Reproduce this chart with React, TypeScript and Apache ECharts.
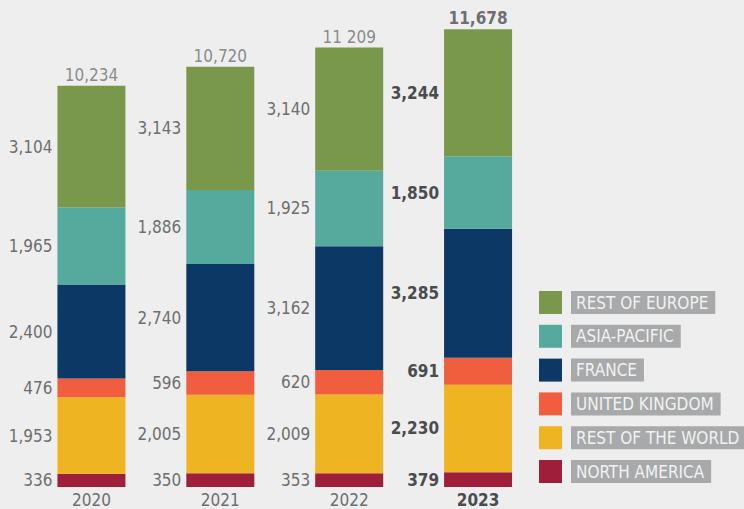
import React, { useEffect, useRef } from "react";
import * as echarts from "echarts";

const years = ["2020", "2021", "2022", "2023"];
const northAmerica = [336, 350, 353, 379];
const restOfWorld = [1953, 2005, 2009, 2230];
const unitedKingdom = [476, 596, 620, 691];
const france = [2400, 2740, 3162, 3285];
const asiaPacific = [1965, 1886, 1925, 1850];
const restOfEurope = [3104, 3143, 3140, 3244];
const totals = [10234, 10720, 11209, 11678];
const totalLabels = ["10,234", "10,720", "11 209", "11,678"];
const legendOrder = [
  "REST OF EUROPE",
  "ASIA-PACIFIC",
  "FRANCE",
  "UNITED KINGDOM",
  "REST OF THE WORLD",
  "NORTH AMERICA",
];

const FONT = '"Liberation Sans Narrow", "DejaVu Sans Condensed", Roboto, sans-serif';
const GRAY = "#6d6e70";
const DARK = "#4a4c4e";
const BOLD_YEAR = "2023";
const FS = 17;

const seriesDefs = [
  { name: "NORTH AMERICA", data: northAmerica, color: "#9f1f3b" },
  { name: "REST OF THE WORLD", data: restOfWorld, color: "#efb422" },
  { name: "UNITED KINGDOM", data: unitedKingdom, color: "#f15e3f" },
  { name: "FRANCE", data: france, color: "#0b3864" },
  { name: "ASIA-PACIFIC", data: asiaPacific, color: "#56a99d" },
  { name: "REST OF EUROPE", data: restOfEurope, color: "#7a984b" },
];

const fmt = (v: number) => v.toLocaleString("en-US");

export default function App() {
  const ref = useRef<HTMLDivElement>(null);
  useEffect(() => {
    if (!ref.current) return;
    const chart = echarts.init(ref.current, undefined, { renderer: "svg" });
    const barSeries = seriesDefs.map((s) => ({
      name: s.name,
      type: "bar",
      stack: "total",
      barWidth: 68,
      itemStyle: { color: s.color },
      label: {
        show: true,
        position: "left",
        distance: 5,
        fontFamily: FONT,
        fontSize: FS,
        color: GRAY,
        formatter: (p: any) => fmt(p.value),
      },
      data: s.data.map((v, i) =>
        years[i] === BOLD_YEAR
          ? { value: v, label: { fontWeight: "bold", color: DARK } }
          : { value: v }
      ),
    }));
    chart.setOption({
      animation: false,
      backgroundColor: "#eeeeee",
      grid: { left: 27, right: 201.5, top: 16.6, bottom: 22 },
      xAxis: {
        type: "category",
        data: years,
        axisLine: { show: false },
        axisTick: { show: false },
        axisLabel: {
          margin: 4,
          fontFamily: FONT,
          fontSize: FS,
          color: GRAY,
          formatter: (v: string) => (v === BOLD_YEAR ? `{b|${v}}` : v),
          rich: {
            b: { fontFamily: FONT, fontSize: FS, fontWeight: "bold", color: DARK },
          },
        },
      },
      yAxis: { type: "value", min: 0, max: 12000, show: false },
      legend: {
        orient: "vertical",
        left: 534,
        top: 286,
        itemWidth: 23,
        itemHeight: 23,
        itemGap: 10.8,
        icon: "rect",
        data: legendOrder,
        selectedMode: false,
        formatter: (name: string) => `{p|}{t|${name}}`,
        textStyle: {
          rich: {
            p: { width: 4 },
            t: {
              fontFamily: FONT,
              fontSize: 17,
              lineHeight: 17,
              color: "#f2f2f2",
              backgroundColor: "#a7a9aa",
              padding: [3, 7, 3, 5],
            },
          },
        },
      },
      series: [
        ...barSeries,
        {
          name: "TOTAL",
          type: "scatter",
          symbol: "circle",
          symbolSize: 1,
          itemStyle: { color: "transparent" },
          label: {
            show: true,
            position: "top",
            distance: 2,
            fontFamily: FONT,
            fontSize: FS,
            color: GRAY,
            formatter: (p: any) => totalLabels[p.dataIndex],
          },
          data: totals.map((v, i) =>
            years[i] === BOLD_YEAR
              ? { value: v, label: { fontWeight: "bold", color: DARK } }
              : { value: v }
          ),
        },
      ],
    });
    return () => chart.dispose();
  }, []);
  return (
    <div
      ref={ref}
      style={{ position: "fixed", left: 0, top: 0, width: 744, height: 509 }}
    />
  );
}
